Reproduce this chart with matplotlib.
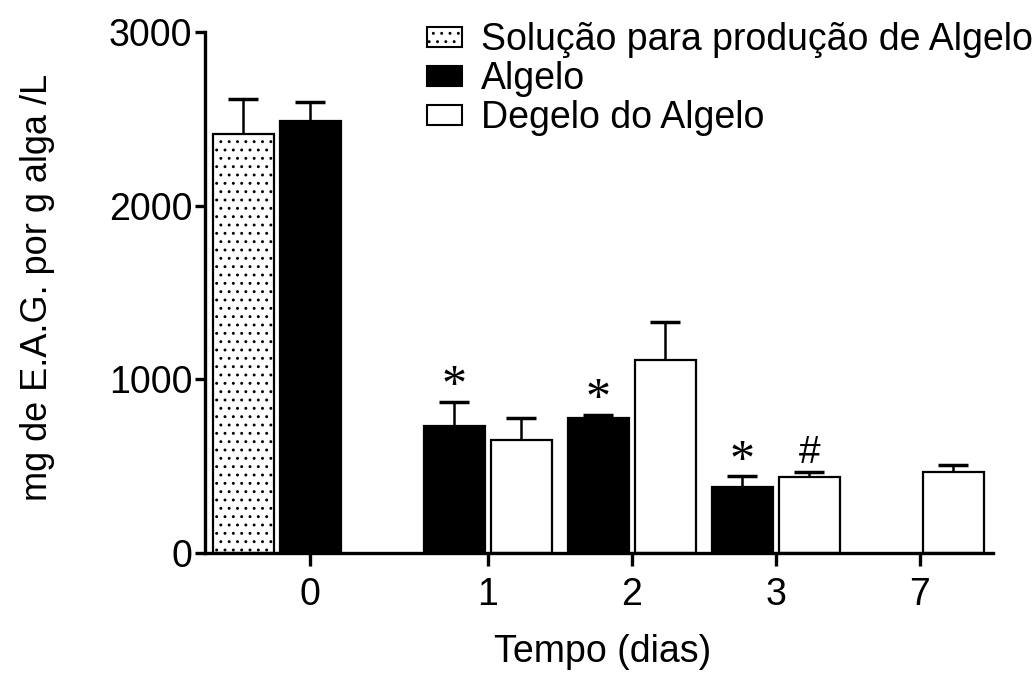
import matplotlib
matplotlib.use('Agg')
import matplotlib.pyplot as plt
from matplotlib.patches import Patch

plt.rcParams['font.family'] = ['Liberation Sans', 'DejaVu Sans']
plt.rcParams['hatch.linewidth'] = 0.9

# data
days = ['0', '1', '2', '3', '7']
solucao_mean = [2415]
solucao_err = [200]
algelo_mean = [2490, 730, 775, 382]
algelo_err = [105, 140, 20, 60]
degelo_mean = [650, 1113, 436, 466]
degelo_err = [125, 215, 28, 40]
algelo_marks = ['*', '*', '*']       # days 1, 2, 3
degelo_marks = ['', '', '#', '']     # days 1, 2, 3, 7

# layout (units of one bar slot)
tick_pos = [0, 2.65, 4.8, 6.95, 9.1]
w = 0.91

fig = plt.figure(figsize=(10.34, 6.74), dpi=100)
ax = fig.add_axes([205 / 1034, 1 - 553 / 674, (993 - 205) / 1034, (553 - 32) / 674])

err_kw = dict(ecolor='black', elinewidth=1.8, capsize=11, capthick=2.5)


def upper_only(bars):
    # Prism style: only the upper cap is drawn
    caps = bars.errorbar.lines[1]
    caps[0].set_visible(False)


# day 0: solution (dotted) and algelo side by side, tick on the algelo bar
b = ax.bar([tick_pos[0] - 1], solucao_mean, w, yerr=[[0], solucao_err],
           color='white', edgecolor='black', hatch='..', linewidth=1.6, error_kw=err_kw)
upper_only(b)
algelo_x = [tick_pos[0]] + [p - 0.5 for p in tick_pos[1:4]]
b = ax.bar(algelo_x, algelo_mean, w, yerr=[[0] * 4, algelo_err],
           color='black', edgecolor='black', linewidth=1.6, error_kw=err_kw)
upper_only(b)
degelo_x = [p + 0.5 for p in tick_pos[1:]]
b = ax.bar(degelo_x, degelo_mean, w, yerr=[[0] * 4, degelo_err],
           color='white', edgecolor='black', linewidth=1.6, error_kw=err_kw)
upper_only(b)

for x, m, e, s in zip(algelo_x[1:], algelo_mean[1:], algelo_err[1:], algelo_marks):
    ax.annotate(s, (x, m + e), xytext=(0, -6), textcoords='offset points',
                ha='center', va='bottom', fontsize=36, family='Liberation Serif')
for x, m, e, s in zip(degelo_x, degelo_mean, degelo_err, degelo_marks):
    if s:
        ax.annotate(s, (x, m + e), xytext=(0, 1), textcoords='offset points',
                    ha='center', va='bottom', fontsize=28, family='Liberation Sans')

ax.set_xlim(-1.57, 10.19)
ax.set_ylim(0, 3000)
ax.set_yticks([0, 1000, 2000, 3000])
ax.set_xticks(tick_pos)
ax.set_xticklabels(days)
for s in ['top', 'right']:
    ax.spines[s].set_visible(False)
for s in ['left', 'bottom']:
    ax.spines[s].set_linewidth(2.4)
ax.tick_params(axis='both', width=2.4, labelsize=27)
ax.tick_params(axis='y', length=7, pad=2)
ax.tick_params(axis='x', length=9, pad=8)

ax.set_ylabel('mg de E.A.G. por g alga /L', fontsize=26)
ax.yaxis.set_label_coords(-0.19, 0.51)
ax.set_xlabel('Tempo (dias)', fontsize=27)
ax.xaxis.set_label_coords(0.505, -0.155)

handles = [Patch(facecolor='white', edgecolor='black', hatch='..', linewidth=1.5),
           Patch(facecolor='black', edgecolor='black', linewidth=1.5),
           Patch(facecolor='white', edgecolor='black', linewidth=1.5)]
labels = ['Solução para produção de Algelo', 'Algelo', 'Degelo do Algelo']
ax.legend(handles, labels, loc='upper left', bbox_to_anchor=(427 / 1034, 1 - 22 / 674),
          bbox_transform=fig.transFigure, frameon=False, fontsize=27,
          handlelength=0.92, handleheight=0.44, handletextpad=0.52, labelspacing=0.08,
          borderaxespad=0, borderpad=0)

fig.savefig('out.png', dpi=100)
